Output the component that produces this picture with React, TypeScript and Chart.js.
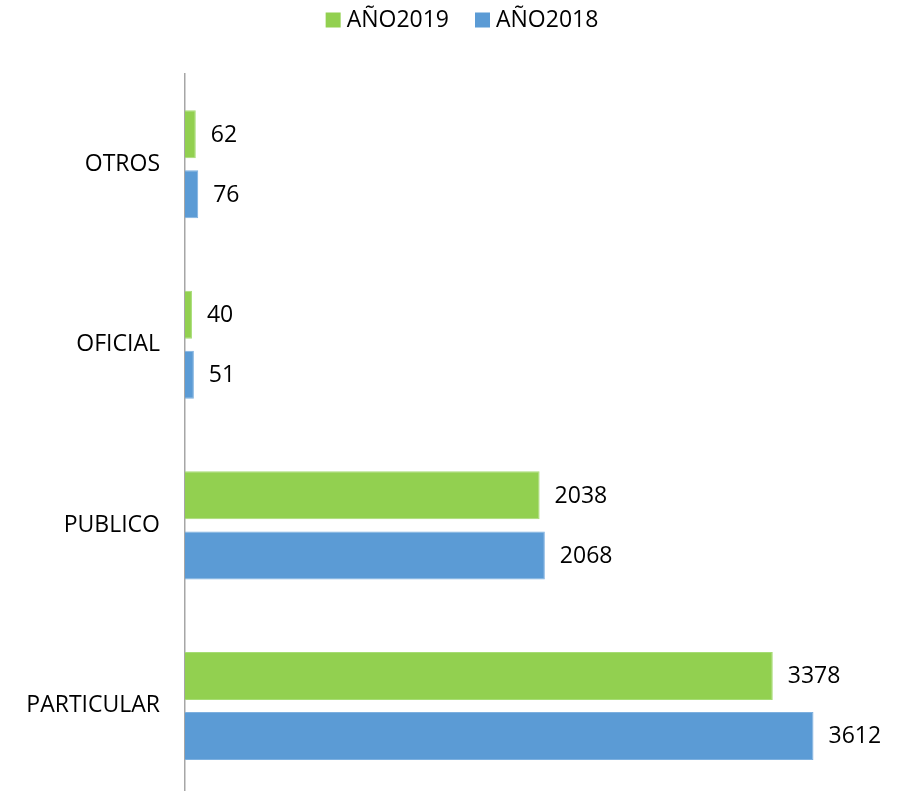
import React, { useEffect, useRef } from "react";
import { Chart, registerables } from "chart.js";

Chart.register(...registerables);

const categories = ["OTROS", "OFICIAL", "PUBLICO", "PARTICULAR"];
const series2019 = [62, 40, 2038, 3378];
const series2018 = [76, 51, 2068, 3612];
const seriesLabels = ["AÑO2019", "AÑO2018"];
const seriesColors = ["#92D050", "#5B9BD5"];

const FONT = "'Open Sans', 'Liberation Sans', sans-serif";
const FS = 23;

const valueLabels = {
  id: "valueLabels",
  afterDatasetsDraw(chart: any) {
    const ctx = chart.ctx;
    ctx.save();
    ctx.font = `${FS}px ${FONT}`;
    ctx.fillStyle = "#000000";
    ctx.textAlign = "left";
    ctx.textBaseline = "middle";
    chart.data.datasets.forEach((ds: any, i: number) => {
      const meta = chart.getDatasetMeta(i);
      meta.data.forEach((bar: any, j: number) => {
        ctx.fillText(String(ds.data[j]), bar.x + 15, bar.y + 1);
      });
    });
    ctx.restore();
  },
};

const topLegend = {
  id: "topLegend",
  afterDraw(chart: any) {
    const ctx = chart.ctx;
    ctx.save();
    ctx.font = `${FS}px ${FONT}`;
    ctx.textBaseline = "middle";
    ctx.textAlign = "left";
    const box = 15;
    const gap = 6;
    const between = 26;
    const items = chart.data.datasets.map((ds: any) => ({
      label: ds.label,
      color: ds.backgroundColor,
      w: box + gap + ctx.measureText(ds.label).width,
    }));
    const total = items.reduce((s: number, it: any) => s + it.w, 0) + between * (items.length - 1);
    let x = chart.width / 2 + 8 - total / 2;
    const cy = 20;
    items.forEach((it: any) => {
      ctx.fillStyle = it.color;
      ctx.fillRect(x, cy - box / 2, box, box);
      ctx.fillStyle = "#000000";
      ctx.fillText(it.label, x + box + gap, cy);
      x += it.w + between;
    });
    ctx.restore();
  },
};

export default function App() {
  const ref = useRef<HTMLCanvasElement>(null);
  useEffect(() => {
    if (!ref.current) return;
    const chart = new Chart(ref.current, {
      type: "bar",
      data: {
        labels: categories,
        datasets: [
          {
            label: seriesLabels[0],
            data: series2019,
            backgroundColor: seriesColors[0],
            borderColor: "#A6DC75",
            borderWidth: 1,
            categoryPercentage: 0.665,
            barPercentage: 0.8,
          },
          {
            label: seriesLabels[1],
            data: series2018,
            backgroundColor: seriesColors[1],
            borderColor: "#7DB0DF",
            borderWidth: 1,
            categoryPercentage: 0.665,
            barPercentage: 0.8,
          },
        ],
      },
      options: {
        indexAxis: "y",
        animation: false,
        responsive: true,
        maintainAspectRatio: false,
        layout: { padding: { top: 74, right: 27, bottom: 4, left: 0 } },
        plugins: {
          legend: { display: false },
          tooltip: { enabled: false },
        },
        scales: {
          x: { display: false, min: 0, max: 4000 },
          y: {
            grid: { display: false, drawTicks: false },
            border: { display: true, color: "#A6A6A6", width: 1.5 },
            ticks: {
              font: { family: FONT, size: FS },
              color: "#000000",
              padding: 25,
            },
            afterFit: (scale: any) => {
              scale.width = 185;
            },
          },
        },
      },
      plugins: [valueLabels, topLegend],
    });
    return () => chart.destroy();
  }, []);
  return (
    <div style={{ position: "fixed", left: 0, top: 0, width: 908, height: 791, overflow: "hidden", background: "#fff" }}>
      <div style={{ position: "relative", width: 908, height: 835 }}>
        <canvas ref={ref} />
      </div>
    </div>
  );
}
